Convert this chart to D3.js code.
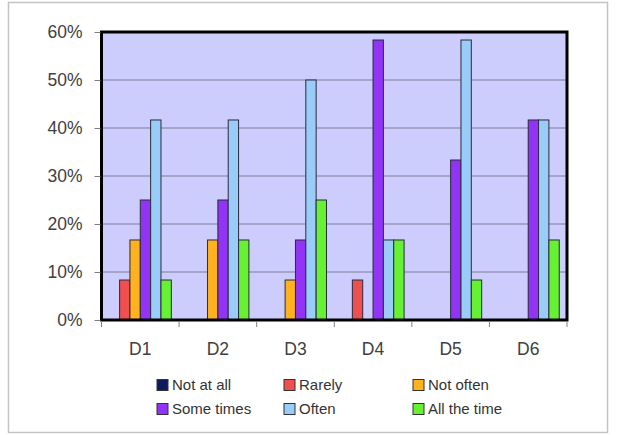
<!DOCTYPE html>
<html>
<head>
<meta charset="utf-8">
<script src="https://cdn.jsdelivr.net/npm/d3@7"></script>
<style>
  html, body { margin: 0; padding: 0; background: #fff; }
  svg { display: block; font-family: "Liberation Sans", Arial, sans-serif; }
</style>
</head>
<body>
<svg id="chart" width="618" height="435"></svg>
<script>
// Share of responses per question, grouped by frequency answer
const categories = ["D1", "D2", "D3", "D4", "D5", "D6"];
const seriesNames = ["Not at all", "Rarely", "Not often", "Some times", "Often", "All the time"];
const seriesColors = ["#0d1b5e", "#f04f4f", "#ffb21e", "#9233f5", "#99ccf8", "#66f133"];
const notAtAll   = [0, 0, 0, 0, 0, 0];
const rarely     = [8.33, 0, 0, 8.33, 0, 0];
const notOften   = [16.67, 16.67, 8.33, 0, 0, 0];
const someTimes  = [25, 25, 16.67, 58.33, 33.33, 41.67];
const often      = [41.67, 41.67, 50, 16.67, 58.33, 41.67];
const allTheTime = [8.33, 16.67, 25, 16.67, 8.33, 16.67];
const yTicks = [0, 10, 20, 30, 40, 50, 60];

const seriesValues = [notAtAll, rarely, notOften, someTimes, often, allTheTime];

const svg = d3.select("#chart");

// Outer chart frame
svg.append("rect")
  .attr("x", 8.5).attr("y", 2.5).attr("width", 599).attr("height", 430)
  .attr("fill", "#fff").attr("stroke", "#c4c4c4").attr("stroke-width", 1.5);

const plot = { left: 101.5, right: 567, top: 32, bottom: 320 };

const x0 = d3.scaleBand().domain(categories).range([plot.left, plot.right]).paddingInner(0).paddingOuter(0);
// Excel-style gap: 150% of one bar width split around the group
const barW = x0.bandwidth() / (seriesNames.length + 1.5);
const x1 = d3.scaleBand().domain(seriesNames)
  .range([barW * 0.75, x0.bandwidth() - barW * 0.75]).padding(0);
const y = d3.scaleLinear().domain([0, 60]).range([plot.bottom, plot.top]);

// Plot background
svg.append("rect")
  .attr("x", plot.left).attr("y", plot.top)
  .attr("width", plot.right - plot.left).attr("height", plot.bottom - plot.top)
  .attr("fill", "#ccccfd");

// Gridlines
svg.append("g")
  .selectAll("line")
  .data(yTicks.filter(t => t > 0 && t < 60))
  .join("line")
  .attr("x1", plot.left).attr("x2", plot.right)
  .attr("y1", d => y(d)).attr("y2", d => y(d))
  .attr("stroke", "#7f7f9a").attr("stroke-width", 1);

// Bars
const groups = svg.append("g")
  .selectAll("g")
  .data(categories)
  .join("g")
  .attr("transform", d => `translate(${x0(d)},0)`);

groups.selectAll("rect")
  .data((c, ci) => seriesNames.map((s, si) => ({ s, si, v: seriesValues[si][ci] })))
  .join("rect")
  .attr("x", d => x1(d.s))
  .attr("y", d => y(d.v))
  .attr("width", x1.bandwidth())
  .attr("height", d => y(0) - y(d.v))
  .attr("fill", d => seriesColors[d.si])
  .attr("stroke", "#2b2b3a")
  .attr("stroke-width", 1);

// Plot frame
svg.append("rect")
  .attr("x", plot.left).attr("y", plot.top)
  .attr("width", plot.right - plot.left).attr("height", plot.bottom - plot.top)
  .attr("fill", "none").attr("stroke", "#000").attr("stroke-width", 3);

// Y axis
const yAxis = d3.axisLeft(y).tickValues(yTicks).tickFormat(d => d + "%").tickSize(6).tickPadding(12);
const gy = svg.append("g").attr("transform", `translate(${plot.left - 1},0)`).call(yAxis);
gy.select(".domain").remove();
gy.selectAll(".tick line").attr("stroke", "#808080");
gy.selectAll(".tick text").attr("font-size", 17.5).attr("fill", "#404040")
  .attr("font-family", "Liberation Sans, Arial, sans-serif");

// X axis
const xAxis = d3.axisBottom(x0).tickSize(0).tickPadding(22);
const gx = svg.append("g").attr("transform", `translate(0,${plot.bottom + 1})`).call(xAxis);
gx.select(".domain").remove();
gx.selectAll(".tick text").attr("font-size", 17.5).attr("fill", "#404040")
  .attr("font-family", "Liberation Sans, Arial, sans-serif");

// Category separator ticks
svg.append("g")
  .selectAll("line")
  .data(d3.range(categories.length + 1))
  .join("line")
  .attr("x1", i => plot.left + i * x0.bandwidth())
  .attr("x2", i => plot.left + i * x0.bandwidth())
  .attr("y1", plot.bottom + 1).attr("y2", plot.bottom + 7)
  .attr("stroke", "#808080");

// Legend
const legendCols = [157, 284, 413];
const legendRows = [385, 409];
const legend = svg.append("g")
  .selectAll("g")
  .data(seriesNames)
  .join("g")
  .attr("transform", (d, i) => `translate(${legendCols[i % 3]},${legendRows[Math.floor(i / 3)]})`);
legend.append("rect")
  .attr("x", 0).attr("y", -5.5).attr("width", 11).attr("height", 11)
  .attr("fill", (d, i) => seriesColors[i])
  .attr("stroke", "#333").attr("stroke-width", 1);
legend.append("text")
  .attr("x", 15).attr("y", 0).attr("dy", "0.36em")
  .attr("font-size", 15).attr("fill", "#333")
  .text(d => d);
</script>
</body>
</html>
